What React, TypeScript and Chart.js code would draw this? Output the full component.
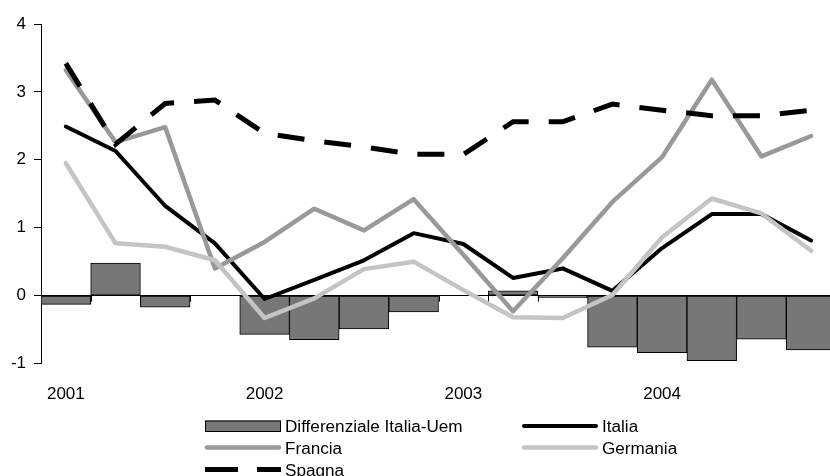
import React, { useEffect, useRef } from 'react';
import { Chart, registerables } from 'chart.js';

Chart.register(...registerables);

const quarterLabels = ['2001', '', '', '', '2002', '', '', '', '2003', '', '', '', '2004', '', '', ''];
const diffItaliaUem = [-0.13, 0.48, -0.17, 0.0, -0.57, -0.65, -0.49, -0.24, 0.0, 0.07, -0.03, -0.76, -0.84, -0.96, -0.64, -0.8];
const italia = [2.49, 2.13, 1.32, 0.77, -0.05, 0.23, 0.52, 0.92, 0.76, 0.26, 0.4, 0.07, 0.7, 1.2, 1.2, 0.81];
const francia = [3.32, 2.26, 2.48, 0.4, 0.79, 1.28, 0.96, 1.42, 0.6, -0.23, 0.55, 1.38, 2.04, 3.18, 2.05, 2.35];
const germania = [1.95, 0.77, 0.72, 0.52, -0.33, -0.04, 0.39, 0.5, 0.08, -0.32, -0.33, 0.01, 0.86, 1.43, 1.21, 0.66];
const spagna = [3.42, 2.23, 2.83, 2.88, 2.39, 2.28, 2.19, 2.08, 2.08, 2.56, 2.56, 2.82, 2.73, 2.65, 2.65, 2.73];
const yTicks = [-1, 0, 1, 2, 3, 4];

const FONT = '"Liberation Sans", Arial, sans-serif';

const zeroTicksPlugin = {
  id: 'zeroTicks',
  beforeDatasetsDraw(chart: any) {
    const { ctx } = chart;
    const xs = chart.scales.x;
    const ys = chart.scales.y;
    const y0 = ys.getPixelForValue(0);
    const n = quarterLabels.length;
    const w = (xs.right - xs.left) / n;
    ctx.save();
    ctx.strokeStyle = '#000';
    ctx.lineWidth = 1;
    for (let i = 0; i <= n; i++) {
      const x = Math.round(xs.left + i * w) + 0.5;
      ctx.beginPath();
      ctx.moveTo(x, y0);
      ctx.lineTo(x, y0 + 6);
      ctx.stroke();
    }
    ctx.restore();
  },
};

const customLegendPlugin = {
  id: 'customLegend',
  afterDraw(chart: any) {
    const { ctx } = chart;
    const ds = chart.data.datasets;
    const col = [205, 522];
    const symW = 76;
    const rowY = [426, 447.5, 469.5];
    const textBase = [431.5, 453.5, 475.5];
    const items = [
      { d: ds[0], c: 0, r: 0, kind: 'box' },
      { d: ds[1], c: 1, r: 0, kind: 'line' },
      { d: ds[2], c: 0, r: 1, kind: 'line' },
      { d: ds[3], c: 1, r: 1, kind: 'line' },
      { d: ds[4], c: 0, r: 2, kind: 'dash' },
    ];
    ctx.save();
    for (const it of items) {
      const x = col[it.c];
      const y = rowY[it.r];
      if (it.kind === 'box') {
        ctx.fillStyle = it.d.backgroundColor;
        ctx.fillRect(x, y - 5.5, symW, 11);
        ctx.strokeStyle = '#000';
        ctx.lineWidth = 1;
        ctx.strokeRect(x + 0.5, y - 5, symW - 1, 10.5);
      } else if (it.kind === 'line') {
        ctx.strokeStyle = it.d.borderColor;
        ctx.lineWidth = it.d.borderWidth;
        ctx.lineCap = 'round';
        ctx.beginPath();
        ctx.moveTo(x + 2, y);
        ctx.lineTo(x + symW - 2, y);
        ctx.stroke();
      } else {
        ctx.fillStyle = it.d.borderColor;
        ctx.fillRect(x, y - 2.5, 33, 5);
        ctx.fillRect(x + 52, y - 2.5, symW - 52, 5);
      }
      ctx.fillStyle = '#000';
      ctx.font = `16px ${FONT}`;
      ctx.textBaseline = 'alphabetic';
      ctx.textAlign = 'left';
      ctx.save();
      ctx.translate(x + symW + 4, textBase[it.r]);
      ctx.scale(1.07, 1);
      ctx.fillText(it.d.label, 0, 0);
      ctx.restore();
    }
    ctx.restore();
  },
};

export default function App() {
  const ref = useRef<HTMLCanvasElement>(null);

  useEffect(() => {
    document.body.style.margin = '0';
    document.body.style.overflow = 'hidden';
    const canvas = ref.current;
    if (!canvas) return;
    Chart.defaults.font.family = FONT;
    Chart.defaults.font.size = 17;
    Chart.defaults.color = '#000';

    const chart = new Chart(canvas, {
      type: 'bar',
      data: {
        labels: quarterLabels,
        datasets: [
          {
            type: 'bar',
            label: 'Differenziale Italia-Uem',
            data: diffItaliaUem,
            backgroundColor: '#777777',
            borderColor: '#000000',
            borderWidth: 1,
            borderSkipped: false,
            barPercentage: 1,
            categoryPercentage: 1,
            order: 5,
          } as any,
          {
            type: 'line',
            label: 'Italia',
            data: italia,
            borderColor: '#000000',
            backgroundColor: '#000000',
            borderWidth: 4,
            pointRadius: 0,
            tension: 0,
            borderCapStyle: 'round',
            borderJoinStyle: 'round',
            order: 4,
          } as any,
          {
            type: 'line',
            label: 'Francia',
            data: francia,
            borderColor: '#999999',
            backgroundColor: '#999999',
            borderWidth: 4.5,
            pointRadius: 0,
            tension: 0,
            borderCapStyle: 'round',
            borderJoinStyle: 'round',
            order: 3,
          } as any,
          {
            type: 'line',
            label: 'Germania',
            data: germania,
            borderColor: '#c4c4c4',
            backgroundColor: '#c4c4c4',
            borderWidth: 4.5,
            pointRadius: 0,
            tension: 0,
            borderCapStyle: 'round',
            borderJoinStyle: 'round',
            order: 2,
          } as any,
          {
            type: 'line',
            label: 'Spagna',
            data: spagna,
            borderColor: '#000000',
            backgroundColor: '#000000',
            borderWidth: 5,
            borderDash: [27, 20],
            pointRadius: 0,
            tension: 0,
            borderCapStyle: 'butt',
            borderJoinStyle: 'miter',
            order: 1,
          } as any,
        ],
      },
      options: {
        responsive: false,
        animation: false,
        events: [],
        layout: { padding: { left: 0, top: 24, right: 4, bottom: 0 } },
        plugins: {
          legend: { display: false },
          tooltip: { enabled: false },
        },
        scales: {
          x: {
            type: 'category',
            offset: true,
            grid: { display: false, drawTicks: false },
            border: { display: false },
            ticks: { autoSkip: false, maxRotation: 0, padding: 21, font: { size: 17 } },
            afterFit: (s: any) => {
              s.height = 112.5;
            },
          },
          y: {
            min: -1,
            max: 4,
            afterBuildTicks: (s: any) => {
              s.ticks = yTicks.map((v) => ({ value: v }));
            },
            grid: {
              drawOnChartArea: true,
              color: (c: any) => (c.tick && c.tick.value === 0 ? '#000000' : 'rgba(0,0,0,0)'),
              tickColor: '#000000',
              tickLength: 7,
              lineWidth: 1,
            },
            border: { display: true, color: '#000000', width: 1 },
            ticks: { padding: 8, font: { size: 17 } },
            afterFit: (s: any) => {
              s.width = 41;
            },
          },
        },
      } as any,
      plugins: [zeroTicksPlugin, customLegendPlugin],
    });
    return () => chart.destroy();
  }, []);

  return (
    <div style={{ width: 830, height: 476, overflow: 'hidden', position: 'relative' }}>
      <canvas ref={ref} width={840} height={476} style={{ display: 'block', width: 840, height: 476 }} />
    </div>
  );
}
